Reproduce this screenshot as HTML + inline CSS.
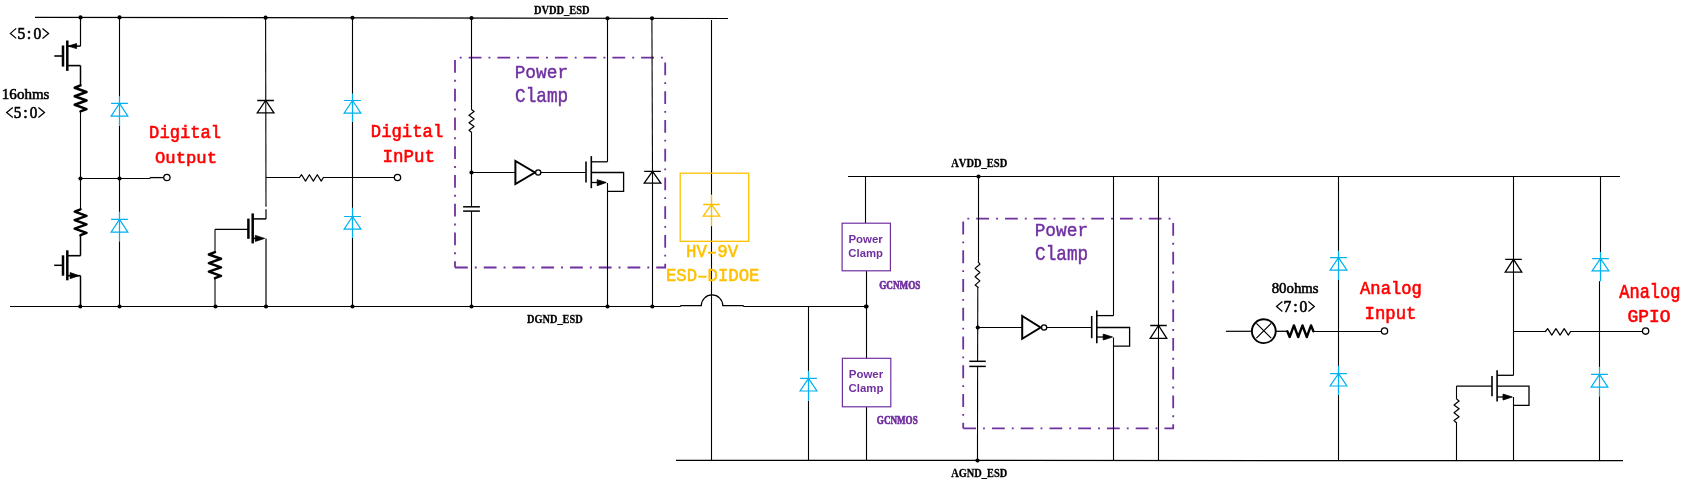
<!DOCTYPE html>
<html><head><meta charset="utf-8"><style>
html,body{margin:0;padding:0;background:#fff;width:1690px;height:484px;overflow:hidden}
svg{display:block;will-change:transform}
text{font-kerning:none}
</style></head><body>
<svg width="1690" height="484" viewBox="0 0 1690 484" shape-rendering="geometricPrecision">
<rect width="1690" height="484" fill="#fff"/>
<line x1="35" y1="17.3" x2="728" y2="18.5" stroke="#000" stroke-width="1.2"/>
<path d="M10,306.5 H680 L681,305.7 H701.3 A10.75,10.75 0 0 1 722.8,305.7 H743 L744,306.5 H866.5" stroke="#000" stroke-width="1.2" fill="none" />
<circle cx="80.5" cy="17.37878787878788" r="2.1" fill="#000"/>
<circle cx="119.5" cy="17.44632034632035" r="2.1" fill="#000"/>
<circle cx="265.6" cy="17.69930735930736" r="2.1" fill="#000"/>
<circle cx="352.5" cy="17.84978354978355" r="2.1" fill="#000"/>
<circle cx="471.5" cy="18.055844155844156" r="2.1" fill="#000"/>
<circle cx="607.5" cy="18.29134199134199" r="2.1" fill="#000"/>
<circle cx="652.0" cy="18.36839826839827" r="2.1" fill="#000"/>
<circle cx="80.3" cy="306.5" r="2.1" fill="#000"/>
<circle cx="119.5" cy="306.5" r="2.1" fill="#000"/>
<circle cx="215.5" cy="306.5" r="2.1" fill="#000"/>
<circle cx="266" cy="306.5" r="2.1" fill="#000"/>
<circle cx="352.5" cy="306.5" r="2.1" fill="#000"/>
<circle cx="471.5" cy="306.5" r="2.1" fill="#000"/>
<circle cx="607.5" cy="306.5" r="2.1" fill="#000"/>
<circle cx="652.3" cy="306.5" r="2.1" fill="#000"/>
<circle cx="866" cy="306.5" r="2.1" fill="#000"/>
<line x1="80.5" y1="18.0" x2="80.5" y2="46.1" stroke="#000" stroke-width="1.2"/>
<line x1="67.3" y1="46.1" x2="80.5" y2="46.1" stroke="#000" stroke-width="1.5"/>
<path d="M68.3,46.1 L76.6,43.6 L76.6,48.6 Z" stroke="#000" stroke-width="0.8" fill="#000" />
<line x1="67.3" y1="40.5" x2="67.3" y2="70.9" stroke="#000" stroke-width="2.5"/>
<line x1="63" y1="45.5" x2="63" y2="66.6" stroke="#000" stroke-width="2.5"/>
<line x1="54.3" y1="56" x2="63" y2="56" stroke="#000" stroke-width="1.6"/>
<line x1="67.3" y1="65.6" x2="80.5" y2="65.6" stroke="#000" stroke-width="1.6"/>
<line x1="80.5" y1="65.6" x2="80.5" y2="84.9" stroke="#000" stroke-width="1.5"/>
<path d="M80.50,85.40 L74.70,87.74 L86.50,92.00 L74.70,96.27 L86.50,100.53 L74.70,104.80 L86.50,109.06 L80.50,111.40" stroke="#000" stroke-width="2.5" fill="none" stroke-linejoin="round" stroke-linecap="round"/>
<line x1="80.5" y1="111.3" x2="80.5" y2="209.3" stroke="#000" stroke-width="1.1"/>
<path d="M80.50,209.30 L74.70,211.63 L86.50,215.88 L74.70,220.13 L86.50,224.37 L74.70,228.62 L86.50,232.87 L80.50,235.20" stroke="#000" stroke-width="2.5" fill="none" stroke-linejoin="round" stroke-linecap="round"/>
<line x1="80.5" y1="235.2" x2="80.5" y2="255.7" stroke="#000" stroke-width="1.5"/>
<line x1="67.3" y1="255.7" x2="80.5" y2="255.7" stroke="#000" stroke-width="1.6"/>
<line x1="67.3" y1="250.3" x2="67.3" y2="280.3" stroke="#000" stroke-width="2.5"/>
<line x1="63" y1="255.3" x2="63" y2="275.7" stroke="#000" stroke-width="2.5"/>
<line x1="54.2" y1="265.3" x2="63" y2="265.3" stroke="#000" stroke-width="1.5"/>
<line x1="67.3" y1="275.7" x2="80.5" y2="275.7" stroke="#000" stroke-width="1.6"/>
<path d="M79,275.7 L70.2,272.6 L70.2,278.6 Z" stroke="#000" stroke-width="0.8" fill="#000" />
<line x1="80.5" y1="275.7" x2="80.5" y2="306.5" stroke="#000" stroke-width="1.5"/>
<circle cx="80.5" cy="178.5" r="2.1" fill="#000"/>
<circle cx="119.5" cy="178.5" r="2.1" fill="#000"/>
<line x1="80.5" y1="178.5" x2="150.3" y2="178.5" stroke="#000" stroke-width="1.2"/>
<line x1="149.8" y1="177.6" x2="163.8" y2="177.6" stroke="#000" stroke-width="1.3"/>
<circle cx="166.9" cy="177.5" r="3.15" fill="#fff" stroke="#000" stroke-width="1.3"/>
<line x1="119.5" y1="18.0" x2="119.5" y2="306.5" stroke="#000" stroke-width="1.1"/>
<line x1="119.5" y1="96.6" x2="119.5" y2="125.9" stroke="#fff" stroke-width="2.4"/>
<line x1="119.5" y1="96.6" x2="119.5" y2="125.9" stroke="#00B0F0" stroke-width="1.2"/>
<path d="M111.1,103.4H127.9M119.5,103.4L111.1,116.2H127.9Z" stroke="#00B0F0" stroke-width="1.2" fill="none" />
<line x1="119.5" y1="211.9" x2="119.5" y2="241.3" stroke="#fff" stroke-width="2.4"/>
<line x1="119.5" y1="211.9" x2="119.5" y2="241.3" stroke="#00B0F0" stroke-width="1.2"/>
<path d="M111.1,219.3H127.9M119.5,219.3L111.1,232.2H127.9Z" stroke="#00B0F0" stroke-width="1.2" fill="none" />
<line x1="265.6" y1="18.0" x2="266" y2="206.7" stroke="#000" stroke-width="1.1"/>
<path d="M257.25,100.5H273.95000000000005M265.6,100.5L257.25,112.9H273.95000000000005Z" stroke="#000" stroke-width="1.3" fill="none" />
<line x1="266" y1="177.5" x2="299.4" y2="177.5" stroke="#000" stroke-width="1.2"/>
<path d="M299.40,177.50 L301.56,174.70 L305.50,181.10 L309.43,174.70 L313.37,181.10 L317.30,174.70 L321.24,181.10 L323.40,177.50" stroke="#000" stroke-width="1.2" fill="none" stroke-linejoin="round" stroke-linecap="round"/>
<line x1="323.4" y1="177.5" x2="394" y2="177.5" stroke="#000" stroke-width="1.2"/>
<circle cx="397.5" cy="177.5" r="3.15" fill="#fff" stroke="#000" stroke-width="1.3"/>
<line x1="266" y1="218.9" x2="252.7" y2="218.9" stroke="#000" stroke-width="1.5"/>
<line x1="266" y1="209.3" x2="266" y2="218.9" stroke="#000" stroke-width="1.2"/>
<line x1="252.7" y1="213.4" x2="252.7" y2="243.4" stroke="#000" stroke-width="2.5"/>
<line x1="248.4" y1="218.6" x2="248.4" y2="238.8" stroke="#000" stroke-width="2.5"/>
<line x1="215" y1="229.3" x2="248.4" y2="229.3" stroke="#000" stroke-width="1.3"/>
<line x1="215" y1="229.3" x2="215" y2="252.2" stroke="#000" stroke-width="1.1"/>
<path d="M215.00,252.20 L208.90,254.54 L221.00,258.80 L208.90,263.07 L221.00,267.33 L208.90,271.60 L221.00,275.86 L215.00,278.20" stroke="#000" stroke-width="2.5" fill="none" stroke-linejoin="round" stroke-linecap="round"/>
<line x1="215" y1="278.2" x2="215" y2="306.5" stroke="#000" stroke-width="1.1"/>
<line x1="252.7" y1="238.4" x2="258" y2="238.4" stroke="#000" stroke-width="1.5"/>
<path d="M264.6,238.4 L255.3,235.4 L255.3,241.4 Z" stroke="#000" stroke-width="0.8" fill="#000" />
<line x1="266" y1="238.4" x2="266" y2="306.5" stroke="#000" stroke-width="1.2"/>
<line x1="352.5" y1="18.0" x2="352.5" y2="306.5" stroke="#000" stroke-width="1.1"/>
<line x1="352.5" y1="93.8" x2="352.5" y2="121.7" stroke="#fff" stroke-width="2.4"/>
<line x1="352.5" y1="93.8" x2="352.5" y2="121.7" stroke="#00B0F0" stroke-width="1.2"/>
<path d="M344.1,100.5H360.9M352.5,100.5L344.1,113.1H360.9Z" stroke="#00B0F0" stroke-width="1.2" fill="none" />
<line x1="352.5" y1="207.9" x2="352.5" y2="237.9" stroke="#fff" stroke-width="2.4"/>
<line x1="352.5" y1="207.9" x2="352.5" y2="237.9" stroke="#00B0F0" stroke-width="1.2"/>
<path d="M344.1,216.5H360.9M352.5,216.5L344.1,229.1H360.9Z" stroke="#00B0F0" stroke-width="1.2" fill="none" />
<path d="M455,267.5 H665.2 V57.7 H455 V267.5" fill="none" stroke="#7030A0" stroke-width="1.8" stroke-dasharray="12.8 7.05 1.85 7.05"/>
<line x1="471.5" y1="18.0" x2="471.5" y2="109.5" stroke="#000" stroke-width="1.1"/>
<path d="M471.50,109.50 L474.10,111.55 L469.00,115.29 L474.10,119.03 L469.00,122.77 L474.10,126.51 L469.00,130.25 L471.50,132.30" stroke="#000" stroke-width="1.2" fill="none" stroke-linejoin="round" stroke-linecap="round"/>
<line x1="471.5" y1="132.3" x2="471.5" y2="206.8" stroke="#000" stroke-width="1.1"/>
<line x1="463.1" y1="206.8" x2="479.9" y2="206.8" stroke="#000" stroke-width="1.5"/>
<line x1="463.1" y1="211.1" x2="479.9" y2="211.1" stroke="#000" stroke-width="1.5"/>
<line x1="471.5" y1="211.1" x2="471.5" y2="306.5" stroke="#000" stroke-width="1.1"/>
<circle cx="471.5" cy="172.5" r="2.1" fill="#000"/>
<line x1="471.5" y1="172.5" x2="515.4" y2="172.5" stroke="#000" stroke-width="1.2"/>
<path d="M515.4,160.9 L515.4,184 L534.9,172.5 Z" stroke="#000" stroke-width="2" fill="none" />
<circle cx="538.2" cy="172.5" r="2.6" fill="#fff" stroke="#000" stroke-width="1.3"/>
<line x1="540.8" y1="172.5" x2="586" y2="172.5" stroke="#000" stroke-width="1.2"/>
<line x1="586" y1="161.5" x2="586" y2="182.5" stroke="#000" stroke-width="1.6"/>
<line x1="591.3" y1="156.1" x2="591.3" y2="188.2" stroke="#000" stroke-width="1.6"/>
<line x1="591.3" y1="161.8" x2="607.5" y2="161.8" stroke="#000" stroke-width="1.3"/>
<line x1="607.5" y1="18.0" x2="607.5" y2="161.8" stroke="#000" stroke-width="1.1"/>
<path d="M591.3,172.5 H623.6 V191.4 H607.5" stroke="#000" stroke-width="1.3" fill="none" />
<line x1="591.3" y1="182.5" x2="598" y2="182.5" stroke="#000" stroke-width="1.3"/>
<path d="M606.3,182.5 L597.2,179.7 L597.2,185.7 Z" stroke="#000" stroke-width="0.8" fill="#000" />
<line x1="607.5" y1="183" x2="607.5" y2="306.5" stroke="#000" stroke-width="1.1"/>
<line x1="651.9" y1="18.0" x2="652.5" y2="171" stroke="#000" stroke-width="1.1"/>
<line x1="652.5" y1="171" x2="652.5" y2="306.5" stroke="#000" stroke-width="1.1"/>
<path d="M644.2,171.3H660.8M652.5,171.3L644.2,183.1H660.8Z" stroke="#000" stroke-width="1.3" fill="none" />
<line x1="711.5" y1="20" x2="711.5" y2="460.6" stroke="#000" stroke-width="1.1"/>
<rect x="680.2" y="173.2" width="68.5" height="68.1" fill="none" stroke="#FFC000" stroke-width="1.3"/>
<line x1="711.5" y1="194.8" x2="711.5" y2="226.1" stroke="#fff" stroke-width="2.4"/>
<line x1="711.5" y1="194.8" x2="711.5" y2="226.1" stroke="#FFC000" stroke-width="1.3"/>
<path d="M703.2,204.5H719.8M711.5,204.5L703.2,216.2H719.8Z" stroke="#FFC000" stroke-width="1.3" fill="none" />
<line x1="808.5" y1="306.5" x2="808.5" y2="460.6" stroke="#000" stroke-width="1.1"/>
<line x1="808.5" y1="370.9" x2="808.5" y2="400.8" stroke="#fff" stroke-width="2.4"/>
<line x1="808.5" y1="370.9" x2="808.5" y2="400.8" stroke="#00B0F0" stroke-width="1.2"/>
<path d="M800.1,378.4H816.9M808.5,378.4L800.1,391H816.9Z" stroke="#00B0F0" stroke-width="1.2" fill="none" />
<line x1="865.5" y1="176.5" x2="865.5" y2="223.2" stroke="#000" stroke-width="1.1"/>
<line x1="866.5" y1="270.8" x2="866.5" y2="358.3" stroke="#000" stroke-width="1.1"/>
<line x1="866.5" y1="406.8" x2="866.5" y2="460.6" stroke="#000" stroke-width="1.1"/>
<rect x="842.1" y="223.2" width="48.3" height="47.6" fill="#fff" stroke="#7030A0" stroke-width="1.2"/>
<rect x="842.4" y="358.3" width="48.4" height="48.5" fill="#fff" stroke="#7030A0" stroke-width="1.2"/>
<circle cx="866.5" cy="306.5" r="2.1" fill="#000"/>
<line x1="848" y1="176.5" x2="1620" y2="176.5" stroke="#000" stroke-width="1.2"/>
<line x1="676" y1="460.4" x2="1623" y2="460.6" stroke="#000" stroke-width="1.2"/>
<circle cx="978.5" cy="176.5" r="2.1" fill="#000"/>
<circle cx="977.5" cy="460.5" r="2.1" fill="#000"/>
<circle cx="977.8" cy="327.5" r="2.1" fill="#000"/>
<path d="M963.2,428.3 H1173.2 V218.7 H963.2 V428.3" fill="none" stroke="#7030A0" stroke-width="1.8" stroke-dasharray="12.8 7.05 1.85 7.05"/>
<line x1="978.5" y1="176.5" x2="978.5" y2="261.9" stroke="#000" stroke-width="1.1"/>
<path d="M978.20,261.90 L979.90,264.19 L975.10,268.38 L979.90,272.56 L975.10,276.74 L979.90,280.92 L975.10,285.10 L978.20,287.40" stroke="#000" stroke-width="1.2" fill="none" stroke-linejoin="round" stroke-linecap="round"/>
<line x1="977.8" y1="287.4" x2="977.6" y2="361.3" stroke="#000" stroke-width="1.1"/>
<line x1="969.3" y1="361.3" x2="985.8" y2="361.3" stroke="#000" stroke-width="1.5"/>
<line x1="969.3" y1="366.4" x2="985.8" y2="366.4" stroke="#000" stroke-width="1.5"/>
<line x1="977.6" y1="366.4" x2="977.5" y2="460.6" stroke="#000" stroke-width="1.1"/>
<line x1="977.8" y1="327.5" x2="1022.2" y2="327.5" stroke="#000" stroke-width="1.2"/>
<path d="M1022.2,316 L1022.2,338.8 L1040.6,327.5 Z" stroke="#000" stroke-width="2" fill="none" />
<circle cx="1044.1" cy="327.5" r="2.6" fill="#fff" stroke="#000" stroke-width="1.3"/>
<line x1="1046.7" y1="327.5" x2="1091.7" y2="327.5" stroke="#000" stroke-width="1.2"/>
<line x1="1091.7" y1="316" x2="1091.7" y2="338.2" stroke="#000" stroke-width="1.6"/>
<line x1="1096.8" y1="310.5" x2="1096.8" y2="343.3" stroke="#000" stroke-width="1.6"/>
<line x1="1096.8" y1="315.6" x2="1113.5" y2="315.6" stroke="#000" stroke-width="1.3"/>
<line x1="1113.5" y1="176.5" x2="1113.5" y2="315.6" stroke="#000" stroke-width="1.1"/>
<path d="M1096.8,327.5 H1129.6 V346.2 H1113.5" stroke="#000" stroke-width="1.3" fill="none" />
<line x1="1096.8" y1="337" x2="1104" y2="337" stroke="#000" stroke-width="1.3"/>
<path d="M1112.5,337 L1103.2,334.1 L1103.2,340 Z" stroke="#000" stroke-width="0.8" fill="#000" />
<line x1="1113.5" y1="337.5" x2="1113.5" y2="460.6" stroke="#000" stroke-width="1.1"/>
<line x1="1158.5" y1="176.5" x2="1158.5" y2="460.6" stroke="#000" stroke-width="1.1"/>
<path d="M1150.2,325.5H1166.8M1158.5,325.5L1150.2,338.3H1166.8Z" stroke="#000" stroke-width="1.3" fill="none" />
<line x1="1225.9" y1="331.3" x2="1252" y2="331.3" stroke="#000" stroke-width="1.2"/>
<circle cx="1263.8" cy="331.2" r="11.9" fill="none" stroke="#000" stroke-width="1.9"/>
<path d="M1256.4,323.4 L1271.2,338.2 M1271.2,323.4 L1256.4,338.2" stroke="#000" stroke-width="1.2" fill="none" />
<line x1="1275.6" y1="331.3" x2="1287.3" y2="331.3" stroke="#000" stroke-width="1.3"/>
<path d="M1287.30,331.30 L1289.65,337.00 L1293.93,325.40 L1298.21,337.00 L1302.49,325.40 L1306.77,337.00 L1311.05,325.40 L1313.40,331.30" stroke="#000" stroke-width="2.4" fill="none" stroke-linejoin="round" stroke-linecap="round"/>
<line x1="1313.4" y1="331.5" x2="1381" y2="331.5" stroke="#000" stroke-width="1.2"/>
<circle cx="1384.5" cy="331" r="3.15" fill="#fff" stroke="#000" stroke-width="1.3"/>
<line x1="1338.5" y1="176.5" x2="1338.5" y2="460.6" stroke="#000" stroke-width="1.1"/>
<line x1="1338.5" y1="250.9" x2="1338.5" y2="279.8" stroke="#fff" stroke-width="2.4"/>
<line x1="1338.5" y1="250.9" x2="1338.5" y2="279.8" stroke="#00B0F0" stroke-width="1.2"/>
<path d="M1330.1,257.6H1346.9M1338.5,257.6L1330.1,270.2H1346.9Z" stroke="#00B0F0" stroke-width="1.2" fill="none" />
<line x1="1338.5" y1="365.9" x2="1338.5" y2="394.8" stroke="#fff" stroke-width="2.4"/>
<line x1="1338.5" y1="365.9" x2="1338.5" y2="394.8" stroke="#00B0F0" stroke-width="1.2"/>
<path d="M1330.1,373.6H1346.9M1338.5,373.6L1330.1,386H1346.9Z" stroke="#00B0F0" stroke-width="1.2" fill="none" />
<line x1="1513.5" y1="176.5" x2="1513.5" y2="375.3" stroke="#000" stroke-width="1.1"/>
<path d="M1505.2,259.3H1521.8M1513.5,259.3L1505.2,272.2H1521.8Z" stroke="#000" stroke-width="1.3" fill="none" />
<line x1="1513.5" y1="331.5" x2="1545.4" y2="331.5" stroke="#000" stroke-width="1.2"/>
<path d="M1545.40,331.50 L1547.67,328.70 L1551.80,335.10 L1555.93,328.70 L1560.07,335.10 L1564.20,328.70 L1568.33,335.10 L1570.60,331.50" stroke="#000" stroke-width="1.2" fill="none" stroke-linejoin="round" stroke-linecap="round"/>
<line x1="1570.6" y1="331.5" x2="1642" y2="331.5" stroke="#000" stroke-width="1.2"/>
<circle cx="1645.6" cy="331.1" r="3.15" fill="#fff" stroke="#000" stroke-width="1.3"/>
<line x1="1492" y1="375.9" x2="1492" y2="396.3" stroke="#000" stroke-width="1.6"/>
<line x1="1497.1" y1="370.2" x2="1497.1" y2="401.4" stroke="#000" stroke-width="1.6"/>
<line x1="1497.1" y1="375.3" x2="1513.5" y2="375.3" stroke="#000" stroke-width="1.3"/>
<path d="M1497.1,386.1 H1529 V405.4 H1513.5" stroke="#000" stroke-width="1.3" fill="none" />
<line x1="1497.1" y1="397" x2="1504" y2="397" stroke="#000" stroke-width="1.3"/>
<path d="M1512.3,397 L1503,394.1 L1503,400 Z" stroke="#000" stroke-width="0.8" fill="#000" />
<line x1="1513.5" y1="397" x2="1513.5" y2="460.6" stroke="#000" stroke-width="1.1"/>
<line x1="1456.5" y1="386.1" x2="1492" y2="386.1" stroke="#000" stroke-width="1.2"/>
<line x1="1456.5" y1="386.1" x2="1456.5" y2="398.9" stroke="#000" stroke-width="1.1"/>
<path d="M1456.50,398.90 L1459.10,401.04 L1454.00,404.95 L1459.10,408.85 L1454.00,412.75 L1459.10,416.65 L1454.00,420.56 L1456.50,422.70" stroke="#000" stroke-width="1.2" fill="none" stroke-linejoin="round" stroke-linecap="round"/>
<line x1="1456.5" y1="422.7" x2="1456.5" y2="460.6" stroke="#000" stroke-width="1.1"/>
<line x1="1600.5" y1="176.5" x2="1600.5" y2="281" stroke="#000" stroke-width="1.1"/>
<line x1="1599.5" y1="281" x2="1599.5" y2="460.6" stroke="#000" stroke-width="1.1"/>
<line x1="1600.5" y1="252.2" x2="1600.5" y2="281.3" stroke="#fff" stroke-width="2.4"/>
<line x1="1600.5" y1="252.2" x2="1600.5" y2="281.3" stroke="#00B0F0" stroke-width="1.2"/>
<path d="M1592.1,258.6H1608.9M1600.5,258.6L1592.1,270.8H1608.9Z" stroke="#00B0F0" stroke-width="1.2" fill="none" />
<line x1="1599.5" y1="366.9" x2="1599.5" y2="396.3" stroke="#fff" stroke-width="2.4"/>
<line x1="1599.5" y1="366.9" x2="1599.5" y2="396.3" stroke="#00B0F0" stroke-width="1.2"/>
<path d="M1591.1,374.3H1607.9M1599.5,374.3L1591.1,387.2H1607.9Z" stroke="#00B0F0" stroke-width="1.2" fill="none" />
<path d="M16.20,28.40 L10.40,33.40 L16.20,38.40" fill="none" stroke="#000" stroke-width="1.25" stroke-linejoin="miter"/>
<path d="M42.50,28.40 L48.60,33.40 L42.50,38.40" fill="none" stroke="#000" stroke-width="1.25" stroke-linejoin="miter"/>
<text transform="translate(21.30,38.90) scale(0.953,1)" text-anchor="middle" font-family="Liberation Serif" font-size="16.34" fill="#000" stroke="#000" stroke-width="0.63">5</text>
<text transform="translate(29.00,38.90) scale(1.000,1)" text-anchor="middle" font-family="Liberation Serif" font-size="16.34" fill="#000" stroke="#000" stroke-width="0.60">:</text>
<text transform="translate(37.40,38.90) scale(0.953,1)" text-anchor="middle" font-family="Liberation Serif" font-size="16.34" fill="#000" stroke="#000" stroke-width="0.63">0</text>
<text transform="translate(1.85,98.90) scale(1.0228,1)" font-family="Liberation Serif" font-weight="normal" font-size="14.70" fill="#000" stroke="#000" stroke-width="0.54">16ohms</text>
<path d="M12.80,107.60 L6.70,112.50 L12.80,117.40" fill="none" stroke="#000" stroke-width="1.25" stroke-linejoin="miter"/>
<path d="M38.40,107.60 L44.50,112.50 L38.40,117.40" fill="none" stroke="#000" stroke-width="1.25" stroke-linejoin="miter"/>
<text transform="translate(17.40,117.90) scale(0.942,1)" text-anchor="middle" font-family="Liberation Serif" font-size="16.04" fill="#000" stroke="#000" stroke-width="0.64">5</text>
<text transform="translate(25.60,117.90) scale(1.000,1)" text-anchor="middle" font-family="Liberation Serif" font-size="16.04" fill="#000" stroke="#000" stroke-width="0.60">:</text>
<text transform="translate(33.50,117.90) scale(0.942,1)" text-anchor="middle" font-family="Liberation Serif" font-size="16.04" fill="#000" stroke="#000" stroke-width="0.64">0</text>
<text transform="translate(149.12,137.90) scale(0.9093,1)" font-family="Liberation Mono" font-weight="normal" font-size="18.86" fill="#FF0000" stroke="#FF0000" stroke-width="0.60">Digital</text>
<text transform="translate(154.91,162.70) scale(0.9959,1)" font-family="Liberation Mono" font-weight="normal" font-size="17.34" fill="#FF0000" stroke="#FF0000" stroke-width="0.55">Output</text>
<text transform="translate(370.81,137.30) scale(0.9372,1)" font-family="Liberation Mono" font-weight="normal" font-size="18.41" fill="#FF0000" stroke="#FF0000" stroke-width="0.59">Digital</text>
<text transform="translate(382.55,162.00) scale(0.9601,1)" font-family="Liberation Mono" font-weight="normal" font-size="18.26" fill="#FF0000" stroke="#FF0000" stroke-width="0.57">InPut</text>
<text transform="translate(514.69,77.90) scale(0.9379,1)" font-family="Liberation Mono" font-weight="normal" font-size="18.98" fill="#7030A0" stroke="#7030A0" stroke-width="0.43">Power</text>
<text transform="translate(515.12,101.80) scale(0.8895,1)" font-family="Liberation Mono" font-weight="normal" font-size="19.89" fill="#7030A0" stroke="#7030A0" stroke-width="0.45">Clamp</text>
<text transform="translate(533.94,13.90) scale(0.7798,1)" font-family="Liberation Serif" font-weight="bold" font-size="13.40" fill="#000" stroke="#000" stroke-width="0.32">DVDD_ESD</text>
<text transform="translate(526.94,322.70) scale(0.7897,1)" font-family="Liberation Serif" font-weight="bold" font-size="13.10" fill="#000" stroke="#000" stroke-width="0.32">DGND_ESD</text>
<text transform="translate(685.97,256.90) scale(0.9292,1)" font-family="Liberation Mono" font-weight="normal" font-size="18.75" fill="#FFC000" stroke="#FFC000" stroke-width="0.54">HV–9V</text>
<text transform="translate(665.98,280.90) scale(0.9022,1)" font-family="Liberation Mono" font-weight="normal" font-size="19.20" fill="#FFC000" stroke="#FFC000" stroke-width="0.55">ESD–DIDOE</text>
<text transform="translate(848.43,242.60) scale(1.1088,1)" font-family="Liberation Sans" font-weight="bold" font-size="10.32" fill="#7030A0">Power</text>
<text transform="translate(848.33,256.60) scale(1.0859,1)" font-family="Liberation Sans" font-weight="bold" font-size="10.47" fill="#7030A0">Clamp</text>
<text transform="translate(879.20,288.90) scale(0.6857,1)" font-family="Liberation Serif" font-weight="bold" font-size="13.36" fill="#7030A0" stroke="#7030A0" stroke-width="0.73">GCNMOS</text>
<text transform="translate(848.73,377.60) scale(1.1121,1)" font-family="Liberation Sans" font-weight="bold" font-size="10.32" fill="#7030A0">Power</text>
<text transform="translate(848.53,391.90) scale(1.1399,1)" font-family="Liberation Sans" font-weight="bold" font-size="10.03" fill="#7030A0">Clamp</text>
<text transform="translate(876.81,423.60) scale(0.7491,1)" font-family="Liberation Serif" font-weight="bold" font-size="12.14" fill="#7030A0" stroke="#7030A0" stroke-width="0.67">GCNMOS</text>
<text transform="translate(951.22,166.70) scale(0.8026,1)" font-family="Liberation Serif" font-weight="bold" font-size="13.10" fill="#000" stroke="#000" stroke-width="0.31">AVDD_ESD</text>
<text transform="translate(951.22,476.70) scale(0.7942,1)" font-family="Liberation Serif" font-weight="bold" font-size="13.10" fill="#000" stroke="#000" stroke-width="0.31">AGND_ESD</text>
<text transform="translate(1034.69,235.90) scale(0.9379,1)" font-family="Liberation Mono" font-weight="normal" font-size="18.98" fill="#7030A0" stroke="#7030A0" stroke-width="0.43">Power</text>
<text transform="translate(1035.12,259.80) scale(0.8895,1)" font-family="Liberation Mono" font-weight="normal" font-size="19.89" fill="#7030A0" stroke="#7030A0" stroke-width="0.45">Clamp</text>
<text transform="translate(1271.71,292.50) scale(0.9662,1)" font-family="Liberation Serif" font-weight="normal" font-size="15.31" fill="#000" stroke="#000" stroke-width="0.57">80ohms</text>
<path d="M1282.40,301.50 L1276.50,306.45 L1282.40,311.40" fill="none" stroke="#000" stroke-width="1.25" stroke-linejoin="miter"/>
<path d="M1308.40,301.50 L1314.30,306.45 L1308.40,311.40" fill="none" stroke="#000" stroke-width="1.25" stroke-linejoin="miter"/>
<text transform="translate(1287.40,311.90) scale(0.962,1)" text-anchor="middle" font-family="Liberation Serif" font-size="16.19" fill="#000" stroke="#000" stroke-width="0.62">7</text>
<text transform="translate(1295.40,311.90) scale(1.000,1)" text-anchor="middle" font-family="Liberation Serif" font-size="16.19" fill="#000" stroke="#000" stroke-width="0.60">:</text>
<text transform="translate(1303.50,311.90) scale(0.962,1)" text-anchor="middle" font-family="Liberation Serif" font-size="16.19" fill="#000" stroke="#000" stroke-width="0.62">0</text>
<text transform="translate(1360.08,293.60) scale(0.9311,1)" font-family="Liberation Mono" font-weight="normal" font-size="18.41" fill="#FF0000" stroke="#FF0000" stroke-width="0.59">Analog</text>
<text transform="translate(1364.57,318.70) scale(0.9179,1)" font-family="Liberation Mono" font-weight="normal" font-size="18.86" fill="#FF0000" stroke="#FF0000" stroke-width="0.60">Input</text>
<text transform="translate(1619.28,297.80) scale(0.8730,1)" font-family="Liberation Mono" font-weight="normal" font-size="19.47" fill="#FF0000" stroke="#FF0000" stroke-width="0.63">Analog</text>
<text transform="translate(1627.59,321.90) scale(0.9430,1)" font-family="Liberation Mono" font-weight="normal" font-size="19.01" fill="#FF0000" stroke="#FF0000" stroke-width="0.58">GPIO</text>
</svg></body></html>
